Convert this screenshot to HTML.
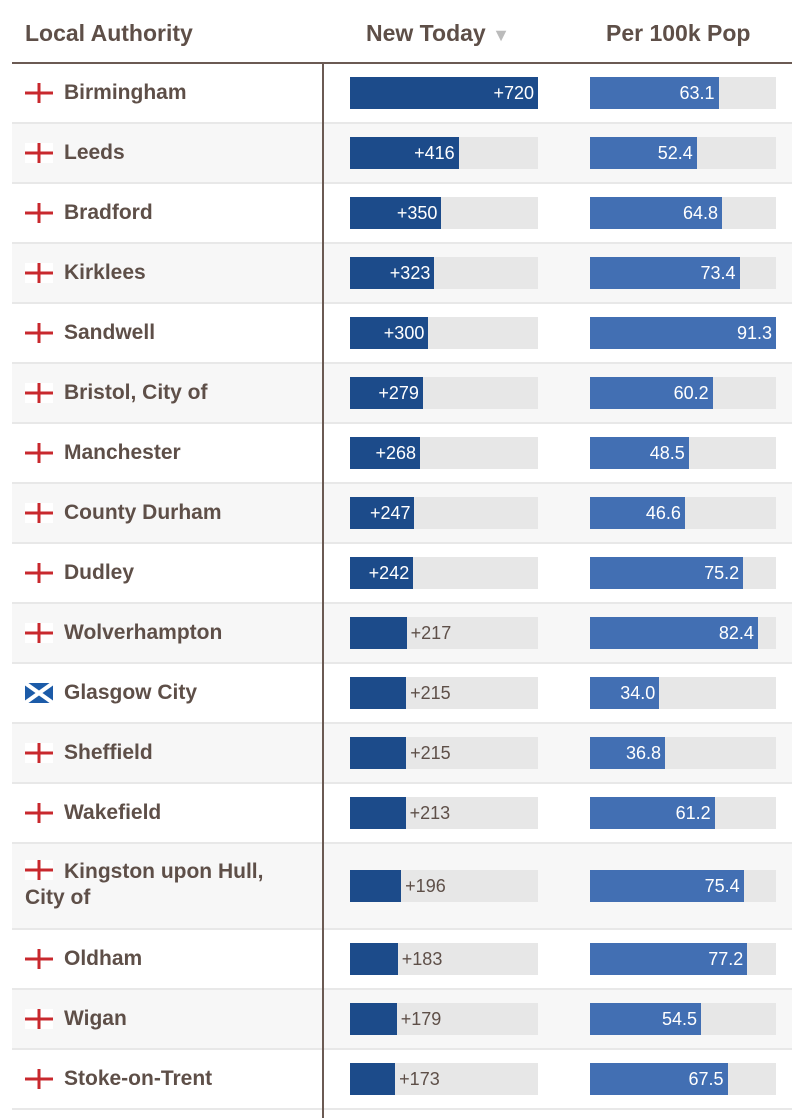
<!DOCTYPE html>
<html><head><meta charset="utf-8">
<style>
body{margin:0;width:792px;height:1118px;background:#fff;font-family:"Liberation Sans",sans-serif;overflow:hidden;position:relative}
.abs{position:absolute}
.hdr{font-weight:bold;font-size:23px;color:#5e4f48;top:20px}
.name{font-weight:bold;font-size:21px;color:#5e4f48;line-height:26px}
.val{font-size:18px;line-height:32px}
</style></head><body>
<div class="abs hdr" style="left:25px">Local Authority</div>
<div class="abs hdr" style="left:366px">New Today <span style="color:#bbb;font-size:18px">▼</span></div>
<div class="abs hdr" style="left:606px">Per 100k Pop</div>
<div class="abs" style="left:12px;top:62px;width:780px;height:2px;background:#6b5a53"></div>
<div id="rows"></div>
<div class="abs" style="left:322px;top:62px;width:2px;height:1056px;background:#6b5a53"></div>
<script>
const names=["Birmingham","Leeds","Bradford","Kirklees","Sandwell","Bristol, City of","Manchester","County Durham","Dudley","Wolverhampton","Glasgow City","Sheffield","Wakefield","Kingston upon Hull, City of","Oldham","Wigan","Stoke-on-Trent"];
const newToday=[720,416,350,323,300,279,268,247,242,217,215,215,213,196,183,179,173];
const per100k=[63.1,52.4,64.8,73.4,91.3,60.2,48.5,46.6,75.2,82.4,34.0,36.8,61.2,75.4,77.2,54.5,67.5];
const nation=["e","e","e","e","e","e","e","e","e","e","s","e","e","e","e","e","e"];
const maxNew=Math.max(...newToday), maxPer=Math.max(...per100k);
const xNew=v=>v/maxNew*188, xPer=v=>v/maxPer*186;
const root=document.getElementById('rows');
let y=64;
names.forEach((n,i)=>{
  const h=(n.length>20)?86:60;
  const row=document.createElement('div');
  row.className='abs';
  row.style.cssText=`left:12px;top:${y}px;width:780px;height:${h-2}px;background:${i%2?'#f7f7f7':'#fff'};border-bottom:2px solid #e8e8e8`;
  
  
  root.appendChild(row);
  const cy=(h-2)/2;
  const flag=document.createElement('div');
  flag.className='abs';
  const fy=(n.length>20)?16:cy-10;
  if(nation[i]==='s'){
    flag.style.cssText=`left:13px;top:${fy}px;width:28px;height:20px;background:#1c5ba8`;
    flag.innerHTML='<svg width="28" height="20"><path d="M0 0L28 20M28 0L0 20" stroke="#fff" stroke-width="4"/></svg>';
  } else {
    flag.style.cssText=`left:13px;top:${fy}px;width:28px;height:20px;background:#fff`;
    flag.innerHTML='<svg width="28" height="20"><rect x="0" y="8.5" width="28" height="3" fill="#c8282d"/><rect x="12.5" y="0" width="3" height="20" fill="#c8282d"/></svg>';
  }
  
  
  row.appendChild(flag);
  const nm=document.createElement('div');
  nm.className='abs name';
  if(n.length>20){nm.style.cssText=`left:13px;top:15px;width:270px`;nm.innerHTML='<span style="padding-left:39px">Kingston upon Hull,</span><br>City of';}
  else{nm.style.cssText=`left:52px;top:${cy-13}px`;nm.textContent=n;}
  
  
  row.appendChild(nm);
  const tr=document.createElement('div');
  tr.className='abs';
  tr.style.cssText=`left:338px;top:${cy-16}px;width:188px;height:32px;background:#e7e7e7`;
  
  
  row.appendChild(tr);
  const w=xNew(newToday[i]);
  const b=document.createElement('div');
  b.className='abs';
  b.style.cssText=`left:0;top:0;width:${w}px;height:32px;background:#1c4b8a`;
  
  
  tr.appendChild(b);
  const lb=document.createElement('div');
  lb.className='abs val';
  if(w>=60){lb.style.cssText=`right:${188-w+4}px;top:0;color:#fff`;}
  else{lb.style.cssText=`left:${w+4}px;top:0;color:#5e4f48`;}
  lb.textContent='+'+newToday[i];
  
  
  tr.appendChild(lb);
  const tr2=document.createElement('div');
  tr2.className='abs';
  tr2.style.cssText=`left:578px;top:${cy-16}px;width:186px;height:32px;background:#e7e7e7`;
  
  
  row.appendChild(tr2);
  const w2=xPer(per100k[i]);
  const b2=document.createElement('div');
  b2.className='abs';
  b2.style.cssText=`left:0;top:0;width:${w2}px;height:32px;background:#426fb3`;
  
  
  tr2.appendChild(b2);
  const lb2=document.createElement('div');
  lb2.className='abs val';
  lb2.style.cssText=`right:${186-w2+4}px;top:0;color:#fff`;
  lb2.textContent=per100k[i].toFixed(1);
  
  
  tr2.appendChild(lb2);
  y+=h;
});
</script>
</body></html>
